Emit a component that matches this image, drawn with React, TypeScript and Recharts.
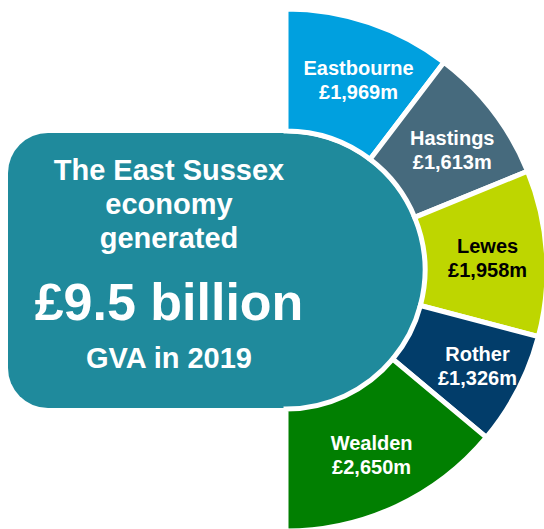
import { PieChart, Pie, Cell } from "recharts";

const districts = ["Eastbourne", "Hastings", "Lewes", "Rother", "Wealden"];
const gva = [1969, 1613, 1958, 1326, 2650];
const sliceColors = ["#00a0df", "#466a7d", "#bed600", "#023d6a", "#017f01"];
const labelColors = ["#ffffff", "#ffffff", "#000000", "#ffffff", "#ffffff"];

const headline = ["The East Sussex", "economy", "generated"];
const total = "£9.5 billion";
const footnote = "GVA in 2019";

const data = districts.map((name, i) => ({ name, value: gva[i] }));

const FONT = '"Liberation Sans", Arial, sans-serif';
const RAD = Math.PI / 180;
// small hand nudges so labels sit where the original put them
const labelNudge = [
  [8, 1],
  [6, 3],
  [0, 1],
  [12, 3],
  [0, 2],
];

// the chart fills the whole window, so drop the default body margin
document.body.style.margin = "0";

function SliceLabel(props: any) {
  const { cx, cy, midAngle, innerRadius, outerRadius, index } = props;
  const r = (innerRadius + outerRadius) / 2 + 2;
  const x = cx + r * Math.cos(-midAngle * RAD) + labelNudge[index][0];
  const y = cy + r * Math.sin(-midAngle * RAD) + labelNudge[index][1];
  return (
    <text
      x={x}
      y={y}
      textAnchor="middle"
      fill={labelColors[index]}
      fontFamily={FONT}
      fontWeight={700}
      fontSize={20}
    >
      <tspan x={x} dy={-5}>
        {districts[index]}
      </tspan>
      <tspan x={x} dy={24}>
        £{gva[index].toLocaleString("en-GB")}m
      </tspan>
    </text>
  );
}

export default function App() {
  return (
    <div style={{ position: "relative", width: 544, height: 529 }}>
      <svg
        width={544}
        height={529}
        style={{ position: "absolute", left: 0, top: 0 }}
      >
        <path
          d="M 48 133 H 286 A 137.5 137.5 0 0 1 286 408 H 48 A 40 40 0 0 1 8 368 V 173 A 40 40 0 0 1 48 133 Z"
          fill="#1f8a9c"
        />
        <g
          fill="#ffffff"
          fontFamily={FONT}
          fontWeight={700}
          textAnchor="middle"
        >
          {headline.map((line, i) => (
            <text key={line} x={169} y={180 + i * 34} fontSize={29}>
              {line}
            </text>
          ))}
          <text x={169} y={320} fontSize={52}>
            {total}
          </text>
          <text x={169} y={368} fontSize={29}>
            {footnote}
          </text>
        </g>
      </svg>
      <div style={{ position: "absolute", left: 0, top: 0 }}>
        <PieChart
          width={544}
          height={529}
          margin={{ top: 0, right: 0, bottom: 0, left: 0 }}
        >
          <Pie
            data={data}
            dataKey="value"
            nameKey="name"
            cx={286}
            cy={270}
            innerRadius={139}
            outerRadius={261}
            startAngle={90}
            endAngle={-90}
            stroke="#ffffff"
            strokeWidth={5}
            label={SliceLabel}
            labelLine={false}
            isAnimationActive={false}
          >
            {data.map((d, i) => (
              <Cell key={d.name} fill={sliceColors[i]} />
            ))}
          </Pie>
        </PieChart>
      </div>
    </div>
  );
}
